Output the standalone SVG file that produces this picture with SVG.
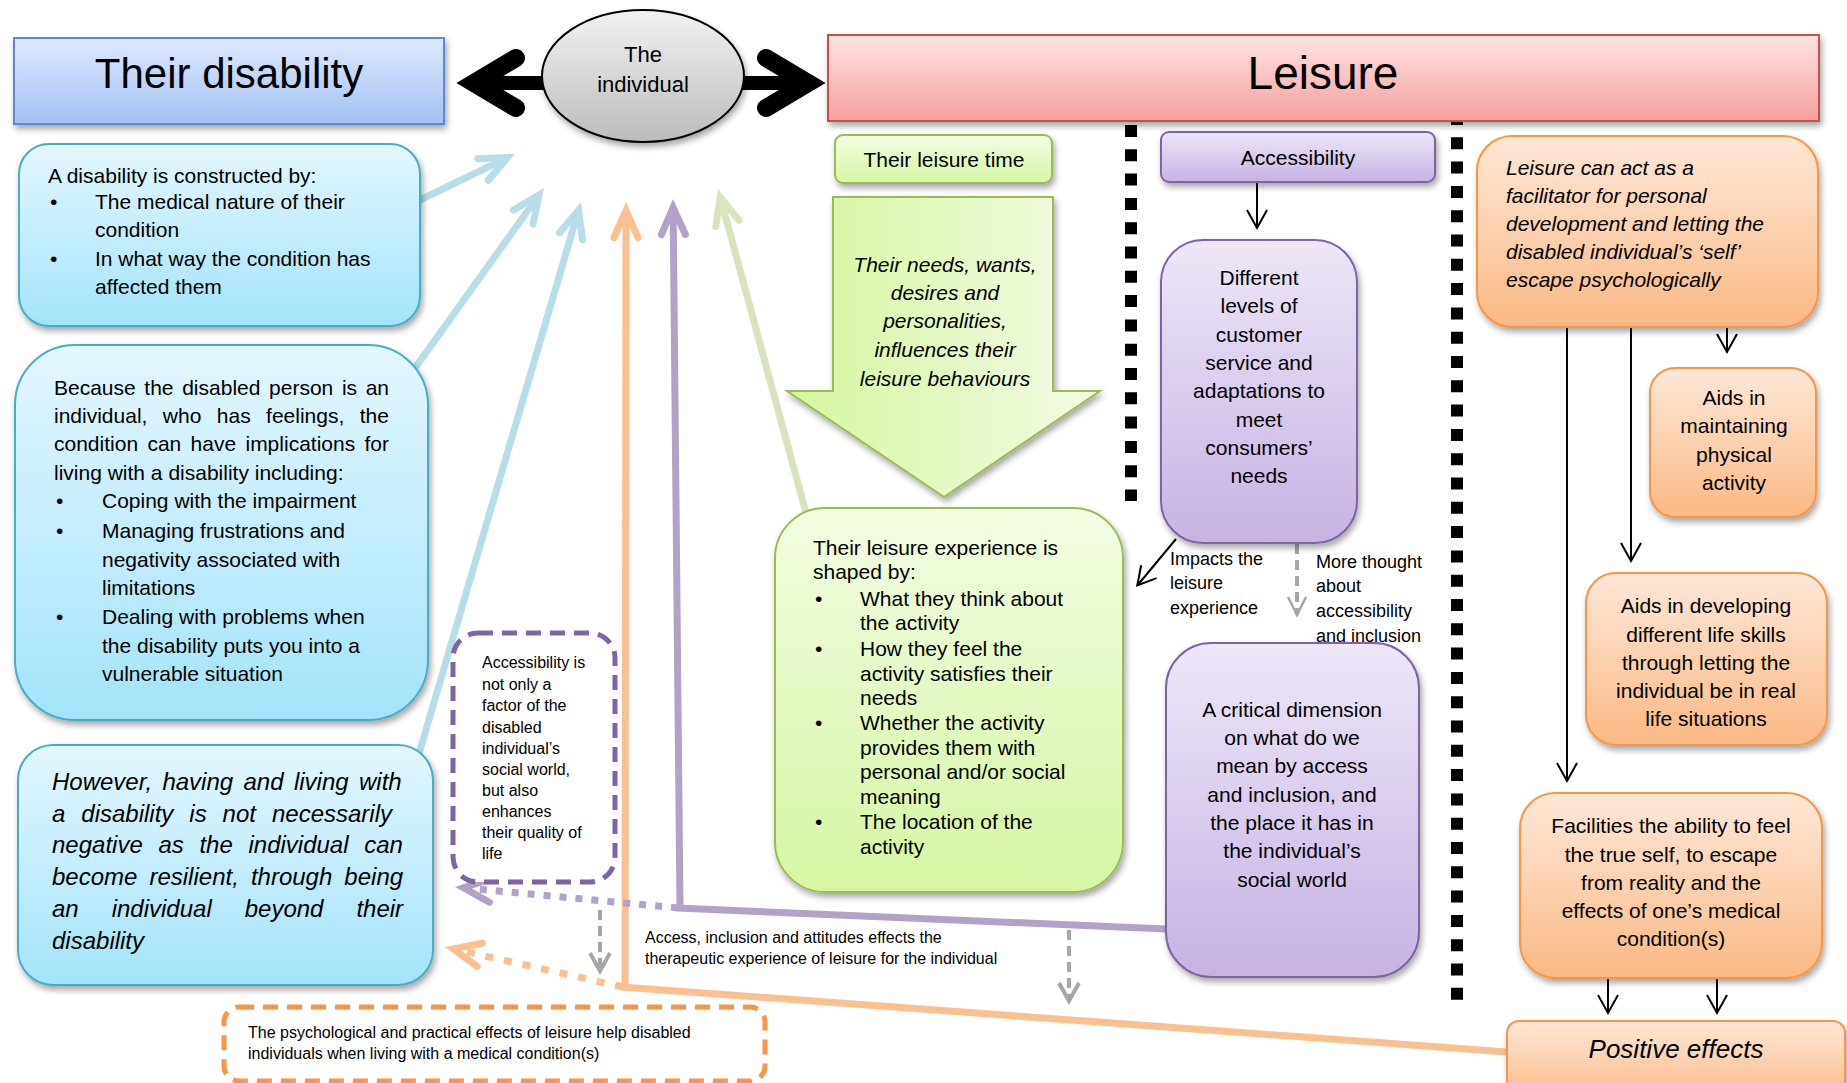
<svg xmlns="http://www.w3.org/2000/svg" width="1847" height="1083" viewBox="0 0 1847 1083">
<style>
text{font-family:"Liberation Sans",Arial,sans-serif;fill:#000}
.t21{font-size:21px}
.t18{font-size:18px}
.t16{font-size:16px}
.it{font-style:italic}
.mid{text-anchor:middle}
.sep{stroke:#000;stroke-width:12;stroke-dasharray:12 12.3;fill:none}
.thin{stroke:#000;stroke-width:2;fill:none}
.cb{stroke:#b7dde8;stroke-width:7;fill:none}
.co{stroke:#fac090;stroke-width:7;fill:none}
.cp{stroke:#b3a2c7;stroke-width:7;fill:none}
.cg{stroke:#d7e4bd;stroke-width:7;fill:none}
.gd{stroke:#a6a6a6;stroke-width:4;stroke-dasharray:10 6;fill:none}
.blue{fill:url(#gCyan);stroke:#4bacc6;stroke-width:2;filter:url(#sh)}
.green{fill:url(#gGreen);stroke:#9bbb59;stroke-width:2;filter:url(#sh)}
.purple{fill:url(#gPurple);stroke:#8064a2;stroke-width:2;filter:url(#sh)}
.orange{fill:url(#gOrange);stroke:#f79646;stroke-width:2;filter:url(#sh)}
</style>
<defs>
<filter id="sh" x="-10%" y="-10%" width="125%" height="130%"><feDropShadow dx="2" dy="4" stdDeviation="3" flood-color="#000" flood-opacity="0.35"/></filter>
<linearGradient id="gBlueHead" x1="0" y1="0" x2="0" y2="1"><stop offset="0" stop-color="#dfe9fc"/><stop offset="1" stop-color="#a3c1f6"/></linearGradient>
<linearGradient id="gCyan" x1="0" y1="0" x2="0" y2="1"><stop offset="0" stop-color="#e4f7fe"/><stop offset="1" stop-color="#a2e4fa"/></linearGradient>
<linearGradient id="gPink" x1="0" y1="0" x2="0" y2="1"><stop offset="0" stop-color="#ffe3e3"/><stop offset="1" stop-color="#f7a0a0"/></linearGradient>
<linearGradient id="gGrey" x1="0" y1="0" x2="0" y2="1"><stop offset="0" stop-color="#f2f2f2"/><stop offset="1" stop-color="#bcbcbc"/></linearGradient>
<linearGradient id="gGreen" x1="0" y1="0" x2="0" y2="1"><stop offset="0" stop-color="#f3fde3"/><stop offset="1" stop-color="#d6f6a2"/></linearGradient>
<linearGradient id="gGreenArrow" x1="0" y1="0" x2="1" y2="0"><stop offset="0" stop-color="#d6f79d"/><stop offset="1" stop-color="#f3fbe6"/></linearGradient>
<linearGradient id="gPurple" x1="0" y1="0" x2="0" y2="1"><stop offset="0" stop-color="#ede7f6"/><stop offset="1" stop-color="#c6b3e3"/></linearGradient>
<linearGradient id="gOrange" x1="0" y1="0" x2="0" y2="1"><stop offset="0" stop-color="#fee8d7"/><stop offset="1" stop-color="#fbb984"/></linearGradient>
<marker id="mBlue" markerUnits="userSpaceOnUse" markerWidth="60" markerHeight="60" viewBox="-40 -30 60 60" refX="0" refY="0" orient="auto" overflow="visible"><path d="M-27,-12 L0,0 L-27,12" fill="none" stroke="#b7dde8" stroke-width="7" stroke-linecap="round"/></marker>
<marker id="mOrange" markerUnits="userSpaceOnUse" markerWidth="60" markerHeight="60" viewBox="-40 -30 60 60" refX="0" refY="0" orient="auto" overflow="visible"><path d="M-27,-12 L0,0 L-27,12" fill="none" stroke="#fac090" stroke-width="7" stroke-linecap="round"/></marker>
<marker id="mPurple" markerUnits="userSpaceOnUse" markerWidth="60" markerHeight="60" viewBox="-40 -30 60 60" refX="0" refY="0" orient="auto" overflow="visible"><path d="M-27,-12 L0,0 L-27,12" fill="none" stroke="#b3a2c7" stroke-width="7" stroke-linecap="round"/></marker>
<marker id="mGreen" markerUnits="userSpaceOnUse" markerWidth="60" markerHeight="60" viewBox="-40 -30 60 60" refX="0" refY="0" orient="auto" overflow="visible"><path d="M-27,-12 L0,0 L-27,12" fill="none" stroke="#d7e4bd" stroke-width="7" stroke-linecap="round"/></marker>
<marker id="mBlack" markerUnits="userSpaceOnUse" markerWidth="40" markerHeight="40" viewBox="-30 -20 40 40" refX="0" refY="0" orient="auto" overflow="visible"><path d="M-18,-10 L0,0 L-18,10" fill="none" stroke="#000" stroke-width="2"/></marker>
<marker id="mGrey" markerUnits="userSpaceOnUse" markerWidth="40" markerHeight="40" viewBox="-30 -20 40 40" refX="0" refY="0" orient="auto" overflow="visible"><path d="M-18,-10 L0,0 L-18,10" fill="none" stroke="#a6a6a6" stroke-width="4"/></marker>
<marker id="mGreyThin" markerUnits="userSpaceOnUse" markerWidth="40" markerHeight="40" viewBox="-30 -20 40 40" refX="0" refY="0" orient="auto" overflow="visible"><path d="M-18,-9 L0,0 L-18,9" fill="none" stroke="#a6a6a6" stroke-width="2.5"/></marker>
</defs>

<rect width="1847" height="1083" fill="#fff"/>

<g id="separators">
<line class="sep" x1="1131" y1="125" x2="1131" y2="501"/>
<line class="sep" x1="1457" y1="113" x2="1457" y2="1000"/>
</g>

<g id="connectors">
<g stroke="#000" fill="none">
<line x1="472" y1="83" x2="560" y2="83" stroke-width="14"/>
<line x1="730" y1="83" x2="810" y2="83" stroke-width="14"/>
<path d="M516,58 L474,83 L516,108" stroke-width="18" stroke-linecap="round" stroke-linejoin="miter"/>
<path d="M766,58 L808,83 L766,108" stroke-width="18" stroke-linecap="round" stroke-linejoin="miter"/>
</g>
<line class="cb" x1="420" y1="200" x2="507.3" y2="157.7" marker-end="url(#mBlue)"/>
<line class="cb" x1="415" y1="368" x2="539" y2="195" marker-end="url(#mBlue)"/>
<line class="cb" x1="418" y1="757" x2="578.6" y2="210.3" marker-end="url(#mBlue)"/>
<line class="co" x1="625" y1="987" x2="626" y2="210.6" marker-end="url(#mOrange)"/>
<line class="cp" x1="680" y1="908" x2="673.1" y2="207.6" marker-end="url(#mPurple)"/>
<line class="cg" x1="806" y1="513" x2="720.3" y2="197.3" marker-end="url(#mGreen)"/>
<line class="cp" x1="677" y1="908" x2="1166" y2="929"/>
<line class="co" x1="622" y1="987" x2="1507" y2="1052"/>
<line class="cp" x1="678" y1="908" x2="463.6" y2="887.8" stroke-dasharray="7 9" marker-end="url(#mPurple)"/>
<line class="co" x1="623" y1="987" x2="453.4" y2="948.9" stroke-dasharray="8 11" marker-end="url(#mOrange)"/>
<line class="gd" x1="600" y1="910" x2="600" y2="971" marker-end="url(#mGrey)"/>
<line class="gd" x1="1069" y1="930" x2="1069" y2="1001" marker-end="url(#mGrey)"/>
<line class="gd" x1="1297" y1="544" x2="1297" y2="615" stroke-width="2.5" stroke-dasharray="8 5" marker-end="url(#mGreyThin)"/>
<line class="thin" x1="1257" y1="182" x2="1257" y2="228" marker-end="url(#mBlack)"/>
<line class="thin" x1="1176" y1="539" x2="1137.3" y2="585.5" marker-end="url(#mBlack)"/>
<line class="thin" x1="1567" y1="327" x2="1567" y2="781" marker-end="url(#mBlack)"/>
<line class="thin" x1="1631" y1="327" x2="1631" y2="561" marker-end="url(#mBlack)"/>
<line class="thin" x1="1727" y1="327" x2="1727" y2="352" marker-end="url(#mBlack)"/>
<line class="thin" x1="1608" y1="978" x2="1608" y2="1013" marker-end="url(#mBlack)"/>
<line class="thin" x1="1717" y1="978" x2="1717" y2="1013" marker-end="url(#mBlack)"/>
</g>

<g id="node-their-disability">
<rect x="14" y="38" width="430" height="86" fill="url(#gBlueHead)" stroke="#5b8ad4" stroke-width="2" filter="url(#sh)"/>
<text x="229" y="88" class="mid" font-size="42">Their disability</text>
</g>

<g id="node-individual">
<ellipse cx="643" cy="76" rx="101" ry="66" fill="url(#gGrey)" stroke="#000" stroke-width="2" filter="url(#sh)"/>
<text x="643" y="62" class="mid" font-size="22">The</text>
<text x="643" y="92" class="mid" font-size="22">individual</text>
</g>

<g id="node-leisure">
<rect x="828" y="35" width="991" height="86" fill="url(#gPink)" stroke="#c9504f" stroke-width="2" filter="url(#sh)"/>
<text x="1323" y="89" class="mid" font-size="46">Leisure</text>
</g>

<g id="node-constructed">
<rect class="blue" x="19" y="144" width="401" height="182" rx="30"/>
<text class="t21" x="48" y="183">A disability is constructed by:</text>
<text class="t21" x="50" y="209">•</text><text class="t21" x="95" y="209">The medical nature of their</text>
<text class="t21" x="95" y="237">condition</text>
<text class="t21" x="50" y="266">•</text><text class="t21" x="95" y="266">In what way the condition has</text>
<text class="t21" x="95" y="294">affected them</text>
</g>

<g id="node-because">
<rect class="blue" x="15" y="345" width="413" height="375" rx="60"/>
<text class="t21" x="54" y="395" word-spacing="2.8">Because the disabled person is an</text>
<text class="t21" x="54" y="423" word-spacing="9.6">individual, who has feelings, the</text>
<text class="t21" x="54" y="451" word-spacing="3.5">condition can have implications for</text>
<text class="t21" x="54" y="480">living with a disability including:</text>
<text class="t21" x="56" y="508">•</text><text class="t21" x="102" y="508">Coping with the impairment</text>
<text class="t21" x="56" y="538">•</text><text class="t21" x="102" y="538">Managing frustrations and</text>
<text class="t21" x="102" y="567">negativity associated with</text>
<text class="t21" x="102" y="595">limitations</text>
<text class="t21" x="56" y="624">•</text><text class="t21" x="102" y="624">Dealing with problems when</text>
<text class="t21" x="102" y="653">the disability puts you into a</text>
<text class="t21" x="102" y="681">vulnerable situation</text>
</g>

<g id="node-however">
<rect class="blue" x="18" y="745" width="415" height="240" rx="35"/>
<g class="it" font-size="24">
<text x="52" y="790" word-spacing="3.7">However, having and living with</text>
<text x="52" y="822" word-spacing="9.3">a disability is not necessarily</text>
<text x="52" y="853" word-spacing="9">negative as the individual can</text>
<text x="52" y="885" word-spacing="5.4">become resilient, through being</text>
<text x="52" y="917" word-spacing="26.3">an individual beyond their</text>
<text x="52" y="949">disability</text>
</g>
</g>

<g id="node-accessibility-note">
<rect x="453" y="633" width="162" height="249" rx="25" fill="#fff" stroke="#8064a2" stroke-width="5" stroke-dasharray="15 9"/>
<text class="t16" x="482" y="668">Accessibility is</text>
<text class="t16" x="482" y="690">not only a</text>
<text class="t16" x="482" y="711">factor of the</text>
<text class="t16" x="482" y="733">disabled</text>
<text class="t16" x="482" y="754">individual’s</text>
<text class="t16" x="482" y="775">social world,</text>
<text class="t16" x="482" y="796">but also</text>
<text class="t16" x="482" y="817">enhances</text>
<text class="t16" x="482" y="838">their quality of</text>
<text class="t16" x="482" y="859">life</text>
</g>

<g id="node-psychological-note">
<rect x="224" y="1007" width="541" height="74" rx="15" fill="#fff" stroke="#f79646" stroke-width="5" stroke-dasharray="15 9"/>
<text class="t16" x="248" y="1038">The psychological and practical effects of leisure help disabled</text>
<text class="t16" x="248" y="1059">individuals when living with a medical condition(s)</text>
</g>

<g id="node-leisure-time">
<rect class="green" x="835" y="135" width="217" height="48" rx="8"/>
<text class="t21 mid" x="944" y="167">Their leisure time</text>
</g>

<g id="node-needs-arrow">
<polygon points="833,197 1053,197 1053,391 1100,391 944,497 787,391 833,391" fill="url(#gGreenArrow)" stroke="#9bbb59" stroke-width="2" filter="url(#sh)"/>
<g class="t21 it mid">
<text x="945" y="272">Their needs, wants,</text>
<text x="945" y="300">desires and</text>
<text x="945" y="328">personalities,</text>
<text x="945" y="357">influences their</text>
<text x="945" y="386">leisure behaviours</text>
</g>
</g>

<g id="node-experience">
<rect class="green" x="775" y="508" width="348" height="384" rx="50"/>
<text class="t21" x="813" y="555">Their leisure experience is</text>
<text class="t21" x="813" y="579">shaped by:</text>
<text class="t21" x="815" y="606">•</text><text class="t21" x="860" y="606">What they think about</text>
<text class="t21" x="860" y="630">the activity</text>
<text class="t21" x="815" y="656">•</text><text class="t21" x="860" y="656">How they feel the</text>
<text class="t21" x="860" y="681">activity satisfies their</text>
<text class="t21" x="860" y="705">needs</text>
<text class="t21" x="815" y="730">•</text><text class="t21" x="860" y="730">Whether the activity</text>
<text class="t21" x="860" y="755">provides them with</text>
<text class="t21" x="860" y="779">personal and/or social</text>
<text class="t21" x="860" y="804">meaning</text>
<text class="t21" x="815" y="829">•</text><text class="t21" x="860" y="829">The location of the</text>
<text class="t21" x="860" y="854">activity</text>
</g>

<g id="node-accessibility">
<rect class="purple" x="1161" y="132" width="274" height="50" rx="8"/>
<text class="t21 mid" x="1298" y="165">Accessibility</text>
</g>

<g id="node-different-levels">
<rect class="purple" x="1161" y="240" width="196" height="303" rx="42"/>
<g class="t21 mid">
<text x="1259" y="285">Different</text>
<text x="1259" y="313">levels of</text>
<text x="1259" y="342">customer</text>
<text x="1259" y="370">service and</text>
<text x="1259" y="398">adaptations to</text>
<text x="1259" y="427">meet</text>
<text x="1259" y="455">consumers’</text>
<text x="1259" y="483">needs</text>
</g>
</g>

<g id="node-critical">
<rect class="purple" x="1166" y="643" width="253" height="334" rx="45"/>
<g class="t21 mid">
<text x="1292" y="717">A critical dimension</text>
<text x="1292" y="745">on what do we</text>
<text x="1292" y="773">mean by access</text>
<text x="1292" y="802">and inclusion, and</text>
<text x="1292" y="830">the place it has in</text>
<text x="1292" y="858">the individual’s</text>
<text x="1292" y="887">social world</text>
</g>
</g>

<g id="node-facilitator">
<rect class="orange" x="1477" y="136" width="341" height="191" rx="35"/>
<g class="t21 it">
<text x="1506" y="175">Leisure can act as a</text>
<text x="1506" y="203">facilitator for personal</text>
<text x="1506" y="231">development and letting the</text>
<text x="1506" y="259">disabled individual’s ‘self’</text>
<text x="1506" y="287">escape psychologically</text>
</g>
</g>

<g id="node-physical">
<rect class="orange" x="1650" y="368" width="166" height="149" rx="25"/>
<g class="t21 mid">
<text x="1734" y="405">Aids in</text>
<text x="1734" y="433">maintaining</text>
<text x="1734" y="462">physical</text>
<text x="1734" y="490">activity</text>
</g>
</g>

<g id="node-life-skills">
<rect class="orange" x="1586" y="573" width="241" height="172" rx="30"/>
<g class="t21 mid">
<text x="1706" y="613">Aids in developing</text>
<text x="1706" y="642">different life skills</text>
<text x="1706" y="670">through letting the</text>
<text x="1706" y="698">individual be in real</text>
<text x="1706" y="726">life situations</text>
</g>
</g>

<g id="node-true-self">
<rect class="orange" x="1520" y="793" width="302" height="185" rx="35"/>
<g class="t21 mid">
<text x="1671" y="833">Facilities the ability to feel</text>
<text x="1671" y="862">the true self, to escape</text>
<text x="1671" y="890">from reality and the</text>
<text x="1671" y="918">effects of one’s medical</text>
<text x="1671" y="946">condition(s)</text>
</g>
</g>

<g id="node-positive">
<rect class="orange" x="1507" y="1021" width="338" height="80" rx="12"/>
<text x="1676" y="1058" class="mid it" font-size="26">Positive effects</text>
</g>

<g id="labels">
<text class="t18" x="1170" y="565">Impacts the</text>
<text class="t18" x="1170" y="589">leisure</text>
<text class="t18" x="1170" y="614">experience</text>
<text class="t18" x="1316" y="568">More thought</text>
<text class="t18" x="1316" y="592">about</text>
<text class="t18" x="1316" y="617">accessibility</text>
<text class="t18" x="1316" y="642">and inclusion</text>
<text class="t16" x="645" y="943">Access, inclusion and attitudes effects the</text>
<text class="t16" x="645" y="964">therapeutic experience of leisure for the individual</text>
</g>
</svg>
